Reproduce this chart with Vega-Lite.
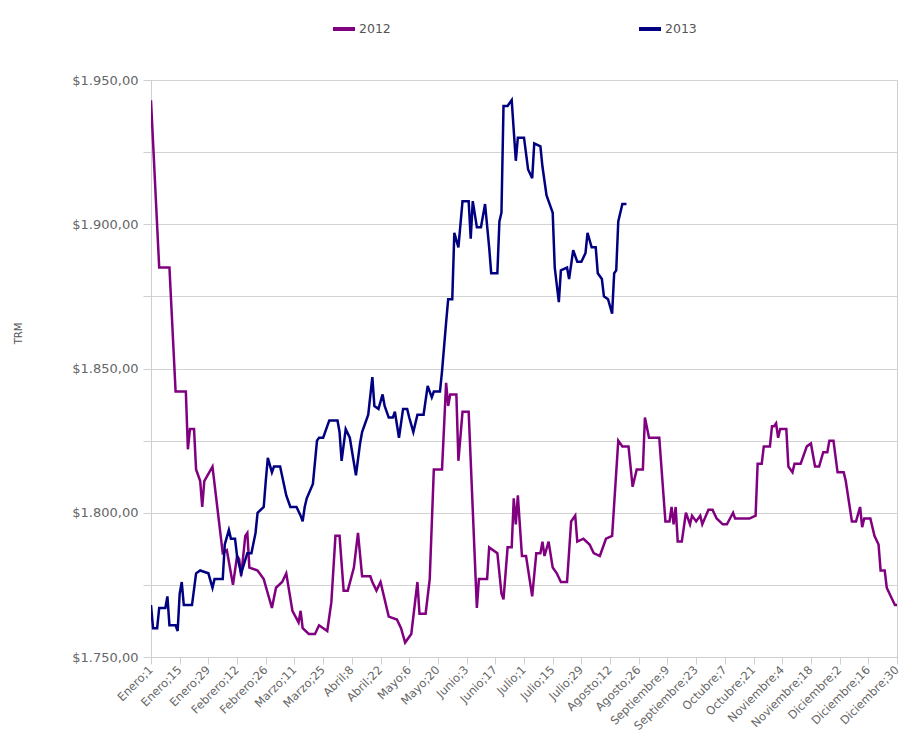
{
  "$schema": "https://vega.github.io/schema/vega-lite/v6.json",
  "width": 746,
  "height": 577,
  "autosize": {"type": "none"},
  "padding": {"left": 151, "top": 80, "right": 13, "bottom": 94},
  "background": "white",
  "config": {
    "view": {"stroke": "#cfcfcf", "strokeWidth": 1},
    "font": "DejaVu Sans"
  },
  "datasets": {
    "y2012": [
      [1,1943],[5,1885],[10,1885],[13,1842],[18,1842],[19,1822],[20,1829],[22,1829],[23,1815],[25,1811],[26,1802],[27,1811],[31,1816],[36,1786],[38,1787],[41,1775],[43,1785],[44,1784],[45,1778],[47,1792],[48,1793],[49,1781],[53,1780],[56,1777],[58,1772],[60,1767],[62,1774],[65,1776],[67,1779],[70,1766],[73,1762],[74,1766],[75,1760],[78,1758],[81,1758],[83,1761],[87,1759],[89,1769],[91,1792],[93,1792],[95,1773],[97,1773],[100,1781],[102,1793],[104,1778],[108,1778],[109,1776],[111,1773],[113,1776],[117,1764],[121,1763],[123,1760],[125,1755],[128,1758],[131,1776],[132,1765],[135,1765],[137,1777],[139,1815],[143,1815],[145,1845],[146,1837],[147,1841],[150,1841],[151,1818],[153,1835],[156,1835],[160,1767],[161,1777],[165,1777],[166,1788],[170,1786],[172,1772],[173,1770],[175,1788],[177,1788],[178,1805],[179,1796],[180,1806],[182,1785],[184,1785],[187,1771],[189,1786],[191,1786],[192,1790],[193,1785],[195,1790],[197,1781],[199,1779],[201,1776],[204,1776],[206,1797],[208,1799],[209,1790],[212,1791],[215,1789],[217,1786],[220,1785],[223,1791],[226,1792],[229,1825],[231,1823],[234,1823],[236,1809],[238,1815],[241,1815],[242,1833],[244,1826],[249,1826],[252,1797],[254,1797],[255,1802],[256,1796],[257,1802],[258,1790],[260,1790],[262,1800],[264,1796],[265,1799],[267,1797],[269,1799],[270,1796],[273,1801],[275,1801],[277,1798],[280,1796],[282,1796],[285,1800],[286,1798],[293,1798],[296,1799],[297,1817],[299,1817],[300,1823],[303,1823],[304,1830],[305,1830],[306,1831],[307,1826],[308,1829],[311,1829],[312,1816],[314,1814],[315,1817],[318,1817],[319,1819],[321,1823],[323,1824],[325,1816],[327,1816],[329,1821],[331,1821],[332,1825],[334,1825],[336,1814],[339,1814],[340,1811],[343,1797],[345,1797],[347,1802],[348,1795],[349,1798],[352,1798],[354,1792],[356,1789],[357,1780],[359,1780],[360,1774],[362,1771],[364,1768],[365,1768]
    ],
    "y2013": [
      [1,1768],[2,1760],[4,1760],[5,1767],[8,1767],[9,1771],[10,1761],[13,1761],[14,1759],[15,1772],[16,1776],[17,1768],[21,1768],[23,1779],[25,1780],[29,1779],[31,1774],[32,1777],[36,1777],[37,1789],[39,1794],[40,1791],[42,1791],[43,1785],[45,1779],[48,1786],[50,1786],[52,1793],[53,1800],[56,1802],[57,1811],[58,1819],[60,1814],[61,1816],[64,1816],[67,1806],[69,1802],[72,1802],[74,1799],[75,1797],[76,1802],[77,1805],[80,1810],[82,1825],[83,1826],[85,1826],[87,1830],[88,1832],[92,1832],[93,1828],[94,1818],[96,1829],[98,1826],[101,1813],[103,1824],[104,1828],[107,1834],[109,1847],[110,1837],[112,1836],[114,1841],[115,1837],[117,1833],[119,1833],[120,1835],[122,1826],[124,1836],[126,1836],[127,1833],[129,1828],[131,1834],[134,1834],[136,1844],[138,1840],[139,1842],[142,1842],[143,1849],[145,1866],[146,1874],[148,1874],[149,1897],[151,1892],[153,1908],[156,1908],[157,1895],[158,1908],[160,1899],[162,1899],[164,1907],[166,1892],[167,1883],[170,1883],[171,1901],[172,1904],[173,1941],[175,1941],[176,1942],[177,1943],[179,1922],[180,1930],[183,1930],[185,1919],[187,1916],[188,1928],[191,1927],[192,1920],[194,1910],[196,1906],[197,1904],[198,1885],[200,1873],[201,1884],[204,1885],[205,1881],[207,1891],[209,1887],[211,1887],[213,1890],[214,1897],[216,1892],[218,1892],[219,1883],[221,1881],[222,1875],[224,1874],[226,1869],[227,1883],[228,1884],[229,1901],[231,1907],[233,1907]
    ]
  },
  "encoding": {
    "x": {
      "field": "dia", "type": "quantitative",
      "scale": {"domain": [1, 365], "nice": false, "zero": false},
      "axis": {
        "title": null,
        "values": [1,15,29,43,57,71,85,99,113,127,141,155,169,183,197,211,225,239,253,267,281,295,309,323,337,351,365],
        "labelExpr": "['Enero;1','Enero;15','Enero;29','Febrero;12','Febrero;26','Marzo;11','Marzo;25','Abril;8','Abril;22','Mayo;6','Mayo;20','Junio;3','Junio;17','Julio;1','Julio;15','Julio;29','Agosto;12','Agosto;26','Septiembre;9','Septiembre;23','Octubre;7','Octubre;21','Noviembre;4','Noviembre;18','Diciembre;2','Diciembre;16','Diciembre;30'][round((datum.value-1)/14)]",
        "labelAngle": -45,
        "labelAlign": "right",
        "labelBaseline": "middle",
        "labelFontSize": 11.5,
        "labelColor": "#666666",
        "labelPadding": 4,
        "labelOverlap": false,
        "labelFlush": false,
        "labelBound": false,
        "grid": false,
        "domainColor": "#cfcfcf",
        "tickColor": "#cfcfcf",
        "tickSize": 7
      }
    },
    "y": {
      "field": "TRM", "type": "quantitative",
      "scale": {"domain": [1750, 1950], "nice": false, "zero": false},
      "axis": {
        "title": "TRM",
        "titleFontSize": 10,
        "titleFontWeight": "normal",
        "titleColor": "#555555",
        "titleX": -133,
        "titleY": 253,
        "titleAngle": -90,
        "titleAlign": "center",
        "titleBaseline": "middle",
        "values": [1750,1775,1800,1825,1850,1875,1900,1925,1950],
        "labelExpr": "datum.value % 50 == 0 ? '$' + replace(replace(replace(format(datum.value, ',.2f'), ',', '#'), '.', ','), '#', '.') : ''",
        "labelFontSize": 13,
        "labelColor": "#666666",
        "labelPadding": 5,
        "labelOverlap": false,
        "tickSize": 8,
        "tickColor": "#cfcfcf",
        "domainColor": "#cfcfcf",
        "gridColor": "#d3d3d3",
        "gridWidth": 1.2
      }
    },
    "color": {
      "field": "serie", "type": "nominal",
      "scale": {"domain": ["2012", "2013"], "range": ["#800080", "#000080"]},
      "legend": {
        "title": null,
        "orient": "none",
        "direction": "horizontal",
        "legendX": 180,
        "legendY": -64,
        "symbolType": "stroke",
        "symbolStrokeWidth": 4,
        "symbolSize": 484,
        "labelFontSize": 12.5,
        "labelColor": "#555555",
        "labelOffset": 2,
        "columnPadding": 240
      }
    }
  },
  "layer": [
    {
      "data": {"name": "y2012"},
      "transform": [
        {"calculate": "datum[0]", "as": "dia"},
        {"calculate": "datum[1]", "as": "TRM"},
        {"calculate": "'2012'", "as": "serie"}
      ],
      "mark": {"type": "line", "strokeWidth": 2.5, "clip": true}
    },
    {
      "data": {"name": "y2013"},
      "transform": [
        {"calculate": "datum[0]", "as": "dia"},
        {"calculate": "datum[1]", "as": "TRM"},
        {"calculate": "'2013'", "as": "serie"}
      ],
      "mark": {"type": "line", "strokeWidth": 2.5, "clip": true}
    }
  ]
}
